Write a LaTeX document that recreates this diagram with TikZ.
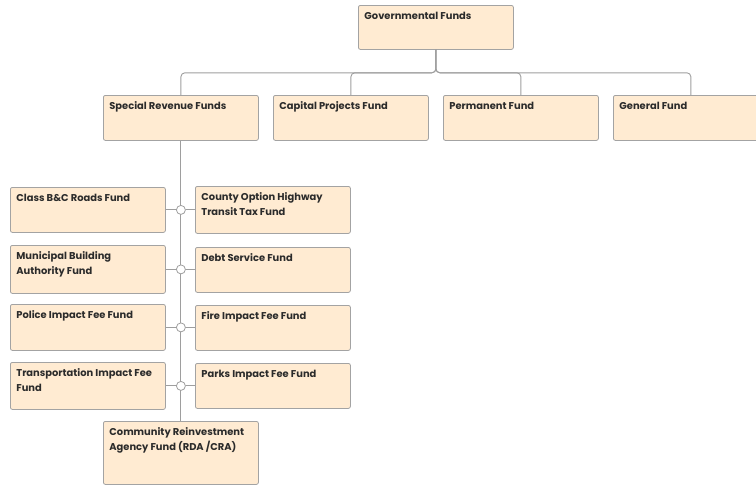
\documentclass[tikz,border=0pt]{standalone}
\usepackage{fontspec}
\setmainfont{Poppins}
\usetikzlibrary{calc}
\definecolor{boxfill}{HTML}{FFEBD2}
\definecolor{boxline}{HTML}{A3A3A3}
\definecolor{linecol}{HTML}{9E9E9E}
\definecolor{txt}{HTML}{2B2B2B}
\newcommand{\bxt}[2]{\parbox[c][#1][t]{143pt}{\fontsize{9.9pt}{15pt}\selectfont\bfseries\color{txt}\strut #2}}
\tikzset{
  fbox/.style={draw=boxline, fill=boxfill, rounded corners=2pt, line width=0.8pt,
    inner xsep=6pt, inner ysep=4pt, anchor=north west, align=left},
  conn/.style={draw=linecol, line width=0.9pt},
  joint/.style={circle, draw=linecol, fill=white, line width=0.8pt, minimum size=9pt, inner sep=0pt}
}
\begin{document}
\begin{tikzpicture}[x=1pt,y=-1pt]
\useasboundingbox (0,0) rectangle (756,485);
% top
\node[fbox] (gov) at (358,5) {\bxt{36pt}{Governmental Funds}};
% row 2
\node[fbox] (srf) at (103,95) {\bxt{37pt}{Special Revenue Funds}};
\node[fbox] (cpf) at (273,95) {\bxt{37pt}{Capital Projects Fund}};
\node[fbox] (pf) at (443,95) {\bxt{37pt}{Permanent Fund}};
\node[fbox] (gf) at (613,95) {\bxt{37pt}{General Fund}};
% left column
\node[fbox] (cbc) at (10,187) {\bxt{37pt}{Class B\&C Roads Fund}};
\node[fbox] (mba) at (10,245) {\bxt{40pt}{Municipal Building\\Authority Fund}};
\node[fbox] (pif) at (10,304) {\bxt{38pt}{Police Impact Fee Fund}};
\node[fbox] (tif) at (10,362) {\bxt{39pt}{Transportation Impact Fee\\Fund}};
% right column
\node[fbox] (coh) at (195,186) {\bxt{39pt}{County Option Highway\\Transit Tax Fund}};
\node[fbox] (dsf) at (195,247) {\bxt{37pt}{Debt Service Fund}};
\node[fbox] (fif) at (195,305) {\bxt{37pt}{Fire Impact Fee Fund}};
\node[fbox] (pkf) at (195,363) {\bxt{37pt}{Parks Impact Fee Fund}};
% bottom
\node[fbox] (cra) at (103,421) {\bxt{55pt}{Community Reinvestment\\Agency Fund (RDA /CRA)}};
% bus connectors
\foreach \t in {srf,cpf,pf,gf}{
  \draw[conn, rounded corners=4pt] (gov.south) -- ($(gov.south)+(0,23)$) -| (\t.north);
}
% spine
\draw[conn] (srf.south) -- (cra.north);
% joints
\node[joint] (j1) at (srf.south |- cbc.east) {};
\node[joint] (j2) at (srf.south |- mba.east) {};
\node[joint] (j3) at (srf.south |- pif.east) {};
\node[joint] (j4) at (srf.south |- tif.east) {};
\draw[conn] (cbc.east) -- (j1.west); \draw[conn] (j1.east) -- (j1.east -| coh.west);
\draw[conn] (mba.east) -- (j2.west); \draw[conn] (j2.east) -- (j2.east -| dsf.west);
\draw[conn] (pif.east) -- (j3.west); \draw[conn] (j3.east) -- (j3.east -| fif.west);
\draw[conn] (tif.east) -- (j4.west); \draw[conn] (j4.east) -- (j4.east -| pkf.west);
\end{tikzpicture}
\end{document}
